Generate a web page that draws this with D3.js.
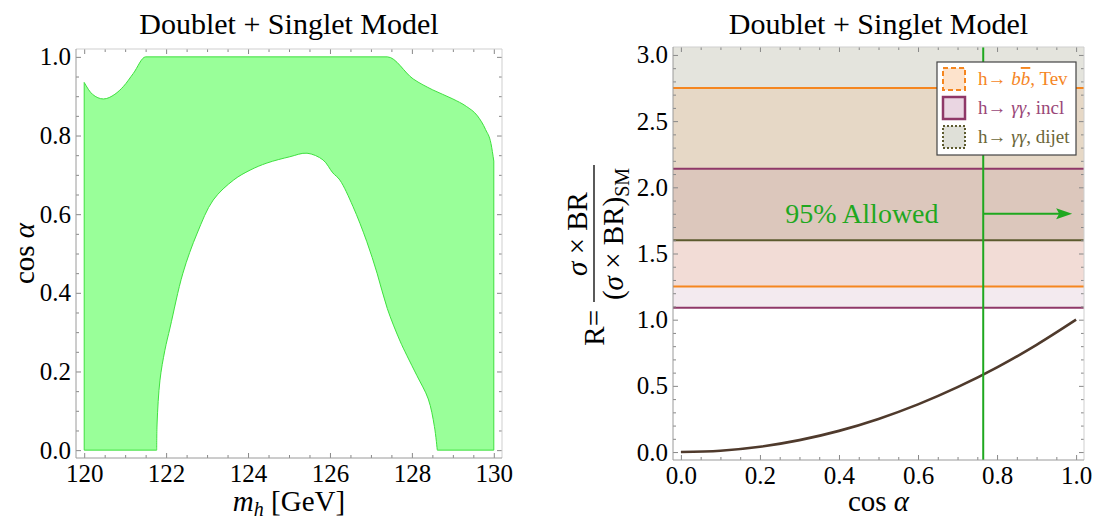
<!DOCTYPE html>
<html>
<head>
<meta charset="utf-8">
<script src="https://cdn.jsdelivr.net/npm/d3@7"></script>
<style>
body { margin: 0; background: #fff; }
text { font-family: "Liberation Serif", "Times New Roman", serif; }
</style>
</head>
<body>
<div id="chart"></div>
<script>
// left panel: allowed region in the (m_h, cos a) plane
const outerEdge = [
    [120.0, 0.935], [120.2, 0.905], [120.47, 0.893], [120.75, 0.905], [120.96, 0.925],
    [121.2, 0.958], [121.5, 1.0], [127.4, 1.0], [128.03, 0.944], [128.51, 0.916],
    [129.0, 0.893], [129.33, 0.874], [129.6, 0.85], [129.8, 0.815], [129.93, 0.78], [130.0, 0.735]
]
const innerEdge = [
    [128.62, 0.0], [128.55, 0.06], [128.4, 0.13], [128.12, 0.19], [127.88, 0.24],
    [127.7, 0.28], [127.4, 0.36], [127.15, 0.45], [126.9, 0.53], [126.56, 0.62],
    [126.24, 0.687], [126.07, 0.705], [125.83, 0.738], [125.44, 0.755], [125.02, 0.746],
    [124.46, 0.73], [124.05, 0.712], [123.65, 0.687], [123.15, 0.636], [122.76, 0.552],
    [122.41, 0.45], [122.1, 0.313], [121.97, 0.254], [121.85, 0.178], [121.78, 0.069], [121.77, 0.0]
]
const massTicks = [120, 122, 124, 126, 128, 130]
const cosTicks = [0, 0.2, 0.4, 0.6, 0.8, 1.0]

// right panel: signal strength vs cos a
const cosValues = [0, 0.1, 0.2, 0.3, 0.4, 0.5, 0.6, 0.7, 0.8, 0.9, 1.0]
const ratioValues = [0, 0.01, 0.04, 0.09, 0.16, 0.25, 0.36, 0.49, 0.64, 0.81, 1.0]
const ratioTicks = [0, 0.5, 1.0, 1.5, 2.0, 2.5, 3.0]
const cosTicksR = [0, 0.2, 0.4, 0.6, 0.8, 1.0]
const channels = ["bb", "incl", "dijet"]
const channelLow = [1.25, 1.09, 1.60]
const channelHigh = [2.75, 2.14, 3.5]
const allowedCos = 0.765
const arrowR = 1.8
const arrowEnd = 0.99

const styles = {
    bb: { line: "#f5861f", fill: "rgba(245,134,31,0.12)", swatch: "#fde3cc", dash: "5,3", label: "#f5861f" },
    incl: { line: "#8f3868", fill: "rgba(143,56,104,0.105)", swatch: "#ead6e2", dash: null, label: "#9a4778" },
    dijet: { line: "#5c5a2e", fill: "rgba(92,90,46,0.165)", swatch: "#dfe0d8", dash: "2,2", label: "#6b6638" }
}
const green = "#1fa81f"
const serif = "'Liberation Serif', 'Times New Roman', serif"

const svg = d3.select("#chart")
    .append("svg")
    .attr("width", 1096)
    .attr("height", 521)
    .style("background", "#fff")

/* FRAME WITH INWARD TICKS */
function drawFrame(x, y, xMajor, yMajor, xStep, yStep, xFmt, yFmt) {
    const [x0, x1] = x.range()
    const [y0, y1] = y.range()
    const xd = x.domain(), yd = y.domain()
    const xMinor = d3.range(Math.ceil(xd[0] / xStep) * xStep, xd[1], xStep)
        .filter(v => !xMajor.some(m => Math.abs(m - v) < 1e-9))
    const yMinor = d3.range(Math.ceil(yd[0] / yStep) * yStep, yd[1], yStep)
        .filter(v => !yMajor.some(m => Math.abs(m - v) < 1e-9))

    const g = svg.append("g")
    const clean = a => {
        a.attr("font-family", serif)
        a.select(".domain").remove()
        a.selectAll(".tick line").attr("stroke", "#888")
        a.selectAll("text").style("font-size", "25px").attr("fill", "#000")
            .style("font-family", serif)
    }
    g.append("g").attr("transform", `translate(0,${y0})`)
        .call(d3.axisBottom(x).tickValues(xMajor).tickSize(-5).tickPadding(6).tickFormat(xFmt)).call(clean)
    g.append("g").attr("transform", `translate(0,${y0})`)
        .call(d3.axisBottom(x).tickValues(xMinor).tickSize(-3).tickFormat("")).call(clean)
    g.append("g").attr("transform", `translate(0,${y1})`)
        .call(d3.axisTop(x).tickValues(xMajor).tickSize(-5).tickFormat("")).call(clean)
    g.append("g").attr("transform", `translate(0,${y1})`)
        .call(d3.axisTop(x).tickValues(xMinor).tickSize(-3).tickFormat("")).call(clean)
    g.append("g").attr("transform", `translate(${x0},0)`)
        .call(d3.axisLeft(y).tickValues(yMajor).tickSize(-5).tickPadding(5).tickFormat(yFmt)).call(clean)
    g.append("g").attr("transform", `translate(${x0},0)`)
        .call(d3.axisLeft(y).tickValues(yMinor).tickSize(-3).tickFormat("")).call(clean)
    g.append("g").attr("transform", `translate(${x1},0)`)
        .call(d3.axisRight(y).tickValues(yMajor).tickSize(-5).tickFormat("")).call(clean)
    g.append("g").attr("transform", `translate(${x1},0)`)
        .call(d3.axisRight(y).tickValues(yMinor).tickSize(-3).tickFormat("")).call(clean)

    g.append("line").attr("x1", x0).attr("x2", x1).attr("y1", y1).attr("y2", y1).attr("stroke", "#cfcfcf")
    g.append("line").attr("x1", x1).attr("x2", x1).attr("y1", y1).attr("y2", y0).attr("stroke", "#cfcfcf")
    g.append("line").attr("x1", x0).attr("x2", x1).attr("y1", y0).attr("y2", y0).attr("stroke", "#9a9a9a")
    g.append("line").attr("x1", x0).attr("x2", x0).attr("y1", y1).attr("y2", y0).attr("stroke", "#9a9a9a")
}

/* ---------------- LEFT PANEL ---------------- */
const xL = d3.scaleLinear().domain([119.8, 130.2]).range([76, 502])
const yL = d3.scaleLinear().domain([-0.02, 1.02]).range([458, 49])

const topLine = d3.line().x(d => xL(d[0])).y(d => yL(d[1])).curve(d3.curveMonotoneX)
const archLine = d3.line().x(d => xL(d[0])).y(d => yL(d[1])).curve(d3.curveCatmullRom)
const regionPath =
    `M${xL(outerEdge[0][0])},${yL(0)}L` + topLine(outerEdge).slice(1) +
    `L${xL(outerEdge[outerEdge.length - 1][0])},${yL(0)}L` + archLine(innerEdge).slice(1) + "Z"

svg.append("path")
    .attr("d", regionPath)
    .attr("fill", "#99ff99")
    .attr("stroke", "#3fe03f")
    .attr("stroke-width", 1)

drawFrame(xL, yL, massTicks, cosTicks, 0.5, 0.05, d3.format("d"), d3.format(".1f"))

svg.append("text")
    .attr("x", (xL.range()[0] + xL.range()[1]) / 2).attr("y", 34)
    .attr("text-anchor", "middle").style("font-size", "30px")
    .text("Doublet + Singlet Model")

const xLabL = svg.append("text")
    .attr("x", (xL.range()[0] + xL.range()[1]) / 2).attr("y", 511)
    .attr("text-anchor", "middle").style("font-size", "29px")
xLabL.append("tspan").style("font-style", "italic").text("m")
xLabL.append("tspan").style("font-style", "italic").style("font-size", "20px").attr("dy", 5).text("h")
xLabL.append("tspan").attr("dy", -5).text(" [GeV]")

const yLabL = svg.append("text")
    .attr("transform", `translate(34,${(yL.range()[0] + yL.range()[1]) / 2}) rotate(-90)`)
    .attr("text-anchor", "middle").style("font-size", "29px")
yLabL.append("tspan").text("cos ")
yLabL.append("tspan").style("font-style", "italic").text("α")

/* ---------------- RIGHT PANEL ---------------- */
const xR = d3.scaleLinear().domain([-0.02, 1.02]).range([673, 1084])
const yR = d3.scaleLinear().domain([-0.06, 3.06]).range([460, 47])

svg.append("defs").append("clipPath").attr("id", "clipR")
    .append("rect")
    .attr("x", xR.range()[0]).attr("y", yR.range()[1])
    .attr("width", xR.range()[1] - xR.range()[0])
    .attr("height", yR.range()[0] - yR.range()[1])

const plotR = svg.append("g").attr("clip-path", "url(#clipR)")

// bands: dijet first, then bb, then incl on top
const drawOrder = [2, 0, 1]
drawOrder.forEach(i => {
    plotR.append("rect")
        .attr("x", xR.range()[0])
        .attr("width", xR.range()[1] - xR.range()[0])
        .attr("y", yR(channelHigh[i]))
        .attr("height", yR(channelLow[i]) - yR(channelHigh[i]))
        .attr("fill", styles[channels[i]].fill)
})
drawOrder.forEach(i => {
    [channelLow[i], channelHigh[i]].forEach(v => {
        plotR.append("line")
            .attr("x1", xR.range()[0]).attr("x2", xR.range()[1])
            .attr("y1", yR(v)).attr("y2", yR(v))
            .attr("stroke", styles[channels[i]].line)
            .attr("stroke-width", 2)
    })
})

// R = cos^2 a curve
plotR.append("path")
    .datum(cosValues.map((c, i) => [c, ratioValues[i]]))
    .attr("fill", "none")
    .attr("stroke", "#4f3a2c")
    .attr("stroke-width", 2.6)
    .attr("d", d3.line().x(d => xR(d[0])).y(d => yR(d[1])).curve(d3.curveMonotoneX))

// allowed line and arrow
plotR.append("line")
    .attr("x1", xR(allowedCos)).attr("x2", xR(allowedCos))
    .attr("y1", yR.range()[1]).attr("y2", yR.range()[0])
    .attr("stroke", green).attr("stroke-width", 2)

plotR.append("line")
    .attr("x1", xR(allowedCos)).attr("x2", xR(arrowEnd) - 12)
    .attr("y1", yR(arrowR)).attr("y2", yR(arrowR))
    .attr("stroke", green).attr("stroke-width", 2)
plotR.append("path")
    .attr("d", `M${xR(arrowEnd)},${yR(arrowR)}l-16,-5.5l3,5.5l-3,5.5z`)
    .attr("fill", green)

svg.append("text")
    .attr("x", xR(0.652)).attr("y", yR(arrowR) + 9)
    .attr("text-anchor", "end").attr("fill", green)
    .style("font-size", "28px")
    .text("95% Allowed")

drawFrame(xR, yR, cosTicksR, ratioTicks, 0.05, 0.1, d3.format(".1f"), d3.format(".1f"))

svg.append("text")
    .attr("x", (xR.range()[0] + xR.range()[1]) / 2).attr("y", 34)
    .attr("text-anchor", "middle").style("font-size", "30px")
    .text("Doublet + Singlet Model")

const xLabR = svg.append("text")
    .attr("x", (xR.range()[0] + xR.range()[1]) / 2).attr("y", 511)
    .attr("text-anchor", "middle").style("font-size", "29px")
xLabR.append("tspan").text("cos ")
xLabR.append("tspan").style("font-style", "italic").text("α")

// y label: R = (sigma x BR) / (sigma x BR)_SM, rotated
const yLabR = svg.append("g").attr("transform", "translate(594,260) rotate(-90)")
yLabR.append("line")
    .attr("x1", -42).attr("x2", 95).attr("y1", 0).attr("y2", 0)
    .attr("stroke", "#000").attr("stroke-width", 1.3)
yLabR.append("text")
    .attr("x", -50).attr("y", 10).attr("text-anchor", "end")
    .style("font-size", "29px").text("R=")
const num = yLabR.append("text")
    .attr("x", 26).attr("y", -7).attr("text-anchor", "middle").style("font-size", "29px")
num.append("tspan").style("font-style", "italic").text("σ")
num.append("tspan").text(" × BR")
const den = yLabR.append("text")
    .attr("x", 26).attr("y", 29).attr("text-anchor", "middle").style("font-size", "29px")
den.append("tspan").text("(")
den.append("tspan").style("font-style", "italic").text("σ")
den.append("tspan").text(" × BR)")
den.append("tspan").style("font-size", "20px").attr("dy", 6).text("SM")

/* LEGEND */
const legend = svg.append("g").attr("transform", "translate(937,62)")
legend.append("rect")
    .attr("width", 139).attr("height", 93)
    .attr("fill", "#fff").attr("stroke", "#444").attr("stroke-width", 1.2)

const legendText = [
    [["h→ ", false], ["b", true], ["b", true, true], [", Tev", false]],
    [["h→ ", false], ["γγ", true], [", incl", false]],
    [["h→ ", false], ["γγ", true], [", dijet", false]]
]
channels.forEach((c, i) => {
    const row = legend.append("g").attr("transform", `translate(0,${17 + i * 29})`)
    row.append("rect")
        .attr("x", 6).attr("y", -11).attr("width", 22).attr("height", 22)
        .attr("fill", styles[c].swatch)
        .attr("stroke", styles[c].line)
        .attr("stroke-width", c === "incl" ? 2.5 : 2)
        .attr("stroke-dasharray", styles[c].dash)
    const t = row.append("text")
        .attr("x", 41).attr("y", 6)
        .attr("fill", styles[c].label)
        .style("font-size", "19px")
    legendText[i].forEach(([s, it, over]) => {
        const sp = t.append("tspan").text(s)
        if (it) sp.style("font-style", "italic")
        if (over) sp.style("text-decoration", "overline")
    })
})
</script>
</body>
</html>
